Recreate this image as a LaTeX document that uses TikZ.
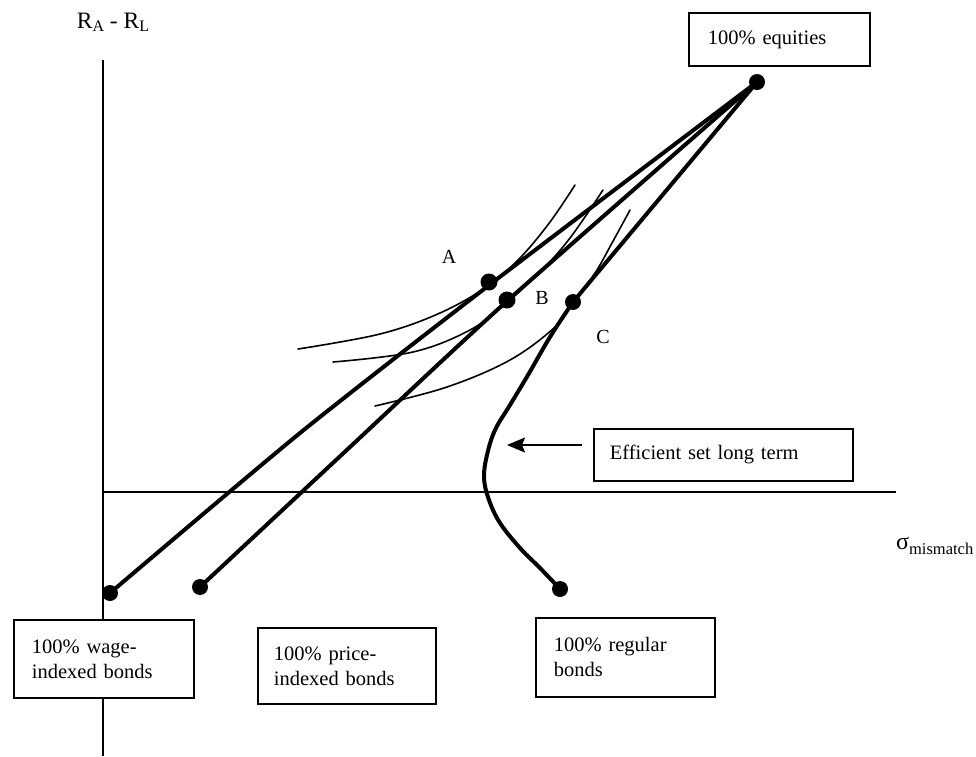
\documentclass[tikz,border=0pt]{standalone}
\usepackage{fontspec}
\setmainfont{Liberation Serif}
\usetikzlibrary{arrows.meta}
\begin{document}
\begin{tikzpicture}[x=1pt,y=-1pt,
  axis/.style={line width=1.7pt},
  frontier/.style={line width=4pt, line cap=round, line join=round},
  indiff/.style={line width=1.6pt, line cap=round},
  dot/.style={circle, fill=black, inner sep=0pt, minimum size=#1},
  dot/.default=16pt,
  box/.style={draw, line width=1.8pt, fill=white, anchor=north west, align=left,
    font=\fontsize{20.5}{25}\selectfont},
  lbl/.style={font=\fontsize{20}{24}\selectfont, inner sep=0pt}]
\useasboundingbox (0,0) rectangle (976,756);

% points
\coordinate (W) at (110,593);
\coordinate (P) at (200,587);
\coordinate (R) at (560,589);
\coordinate (E) at (757,82);
\coordinate (A) at (489,282);
\coordinate (B) at (507,300);
\coordinate (C) at (573,302);
\coordinate (ax0) at (103,60);
\coordinate (ax1) at (103,756);
\coordinate (ay0) at (103,492);
\coordinate (ay1) at (896,492);

% axes
\draw[axis] (ax0) -- (ax1);
\draw[axis] (ay0) -- (ay1);

% indifference curves
\draw[indiff] plot[smooth, tension=0.6] coordinates {(298,349) (380,334) (440,313) (488,286) (520,258) (550,222) (575,185)};
\draw[indiff] plot[smooth, tension=0.6] coordinates {(333,362) (413,352) (470,330) (506,303) (540,272) (570,238) (603,190)};
\draw[indiff] plot[smooth, tension=0.6] coordinates {(375,406) (447,387) (510,360) (555,327) (573,302) (595,273) (612,243) (630,210)};

% frontiers
\draw[frontier] plot[smooth, tension=0.4] coordinates {(W) (300,433) (488,286) (E)};
\draw[frontier] plot[smooth, tension=0.4] coordinates {(P) (350,447) (506,302) (E)};
\draw[frontier] (E) -- (C);
\draw[frontier] plot[smooth, tension=0.6] coordinates {(C) (550,337) (528,375) (510,405) (495,430) (487,455) (484,478) (489,500) (500,523) (520,548) (540,568) (R)};

% dots
\node[dot] (Wd) at (W) {};
\node[dot] (Pd) at (P) {};
\node[dot] (Rd) at (R) {};
\node[dot] (Ed) at (E) {};
\node[dot=17pt] (Ad) at (A) {};
\node[dot=17pt] (Bd) at (B) {};
\node[dot] (Cd) at (C) {};

% point labels
\node[lbl] (lA) at (449,257) {A};
\node[lbl] (lB) at (542,298) {B};
\node[lbl] (lC) at (603,337) {C};

% axis labels
\node[inner sep=0pt, font=\fontsize{23.5}{26}\selectfont] (ylab) at (113,22)
  {R\raisebox{-3pt}{\fontsize{16}{18}\selectfont A} - R\raisebox{-3pt}{\fontsize{16}{18}\selectfont L}};
\node[inner sep=0pt, anchor=west, font=\fontsize{24}{28}\selectfont] (xlab) at (896,546)
  {σ\raisebox{-5pt}{\fontsize{16.5}{20}\selectfont mismatch}};

% boxes
\node[box, text width=143pt, inner xsep=19pt, minimum height=53pt] (eq) at (688,12) {100\% equities};
\node[box, text width=227pt, inner xsep=16pt, minimum height=52pt] (eff) at (593,428) {Efficient set long term};
\node[box, text width=144pt, inner xsep=18pt, minimum height=78pt] (wage) at (13,619) {100\% wage-\\indexed bonds};
\node[box, text width=146pt, inner xsep=16pt, minimum height=76pt] (price) at (257,627) {100\% price-\\indexed bonds};
\node[box, text width=143pt, inner xsep=18pt, minimum height=79pt] (reg) at (535,617) {100\% regular\\bonds};

% arrow
\coordinate (arS) at (582,445);
\coordinate (arE) at (507,445);
\draw[line width=1.8pt, -{Stealth[length=18pt, width=15pt, inset=3pt]}] (arS) -- (arE);
\end{tikzpicture}
\end{document}
